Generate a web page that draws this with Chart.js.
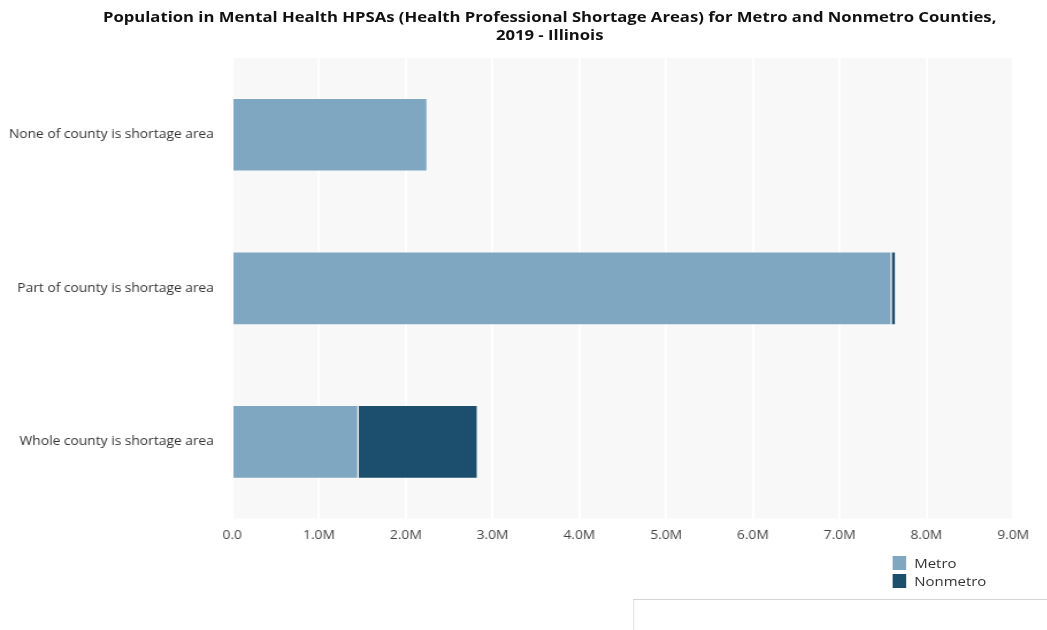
<!DOCTYPE html>
<html>
<head>
<meta charset="utf-8">
<script src="https://cdn.jsdelivr.net/npm/chart.js@4"></script>
<style>
  body { margin: 0; background: #fff; font-family: "Open Sans", sans-serif; overflow: hidden; }
  /* the reference is a bit wider than tall, so stretch everything horizontally */
  #wrap { position: relative; width: 910px; height: 630px; transform: scaleX(1.15); transform-origin: 0 0; }
  #title { position: absolute; left: 0; width: 956px; top: 8px; text-align: center;
           font-weight: bold; font-size: 14.5px; line-height: 18px; color: #111; }
  #legend { position: absolute; left: 776px; top: 554px; font-size: 13px; color: #333; }
  #legend div { display: flex; align-items: center; height: 18px; }
  #legend span.box { width: 12px; height: 14px; margin-right: 7px; display: inline-block; }
  #note { position: absolute; left: 550px; top: 599px; width: 370px; height: 40px;
          border: 1px solid #d4d4d4; background: #fff; }
</style>
</head>
<body>
<div id="wrap">
  <canvas id="hpsaChart" width="910" height="630"></canvas>
  <div id="title">Population in Mental Health HPSAs (Health Professional Shortage Areas) for Metro and Nonmetro Counties,<br>2019 - Illinois</div>
  <div id="legend"></div>
  <div id="note"></div>
</div>
<script>
const categories = ['None of county is shortage area', 'Part of county is shortage area', 'Whole county is shortage area'];
const metroValues = [2250000, 7600000, 1455000];
const nonmetroValues = [0, 50000, 1375000];
const seriesNames = ['Metro', 'Nonmetro'];
const seriesColors = ['#7fa7c2', '#1b4f6d'];
const xMax = 9000000;

// light plot background
const plotBg = {
    id: 'plotBg',
    beforeDraw(chart) {
        const a = chart.chartArea;
        const ctx = chart.ctx;
        ctx.save();
        ctx.fillStyle = '#f8f8f8';
        ctx.fillRect(a.left, a.top, a.right - a.left, a.bottom - a.top);
        ctx.restore();
    }
};

const ctx = document.getElementById('hpsaChart').getContext('2d');
const chart = new Chart(ctx, {
    type: 'bar',
    data: {
        labels: categories,
        datasets: [{
            label: seriesNames[0],
            data: metroValues,
            backgroundColor: seriesColors[0],
            borderColor: 'rgba(255,255,255,0.35)',
            borderWidth: 1,
            barPercentage: 0.48,
            categoryPercentage: 1
        }, {
            label: seriesNames[1],
            data: nonmetroValues,
            backgroundColor: seriesColors[1],
            borderColor: 'rgba(255,255,255,0.35)',
            borderWidth: 1,
            barPercentage: 0.48,
            categoryPercentage: 1
        }]
    },
    options: {
        indexAxis: 'y',
        responsive: false,
        animation: false,
        layout: { padding: { top: 58, left: 7, right: 29, bottom: 77 } },
        plugins: {
            legend: { display: false },
            title: { display: false },
            tooltip: { enabled: false }
        },
        scales: {
            x: {
                stacked: true,
                min: 0,
                max: xMax,
                border: { display: false },
                grid: { color: '#ffffff', lineWidth: 2, drawTicks: false },
                ticks: {
                    stepSize: 1000000,
                    padding: 10,
                    color: '#444',
                    font: { family: 'Open Sans', size: 12 },
                    callback: v => v === 0 ? '0.0' : (v / 1000000).toFixed(1) + 'M'
                }
            },
            y: {
                stacked: true,
                border: { display: false },
                grid: { display: false, drawTicks: false },
                afterFit: s => { s.width = 195; },
                ticks: {
                    padding: 16,
                    color: '#333',
                    font: { family: 'Open Sans', size: 12 }
                }
            }
        }
    },
    plugins: [plotBg]
});

// legend stacked vertically at lower right
const legend = document.getElementById('legend');
seriesNames.forEach((name, i) => {
    const row = document.createElement('div');
    row.innerHTML = '<span class="box" style="background:' + seriesColors[i] + '"></span>' + name;
    legend.appendChild(row);
});
</script>
</body>
</html>
